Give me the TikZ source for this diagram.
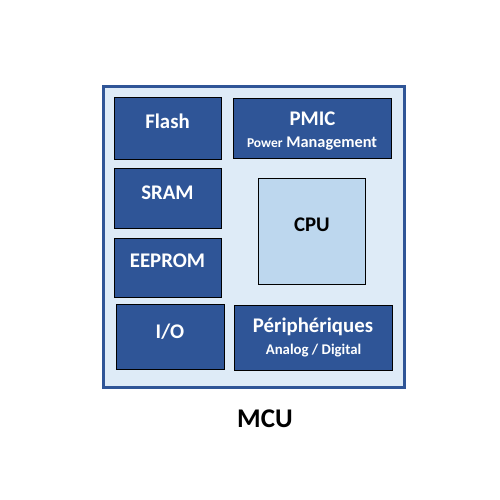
\documentclass[tikz,border=0pt]{standalone}
\usepackage{fontspec}
\setmainfont{Carlito}
\definecolor{mcublue}{HTML}{2F5597}
\definecolor{mculight}{HTML}{DEEBF7}
\definecolor{cpufill}{HTML}{BDD7EE}
\begin{document}
\begin{tikzpicture}[x=1pt,y=-1pt,
  outerbox/.style={draw=mcublue, line width=3pt, fill=mculight, inner sep=0pt},
  darkbox/.style={draw=black, line width=1pt, fill=mcublue, inner sep=0pt},
  cpubox/.style={draw=black, line width=1pt, fill=cpufill, inner sep=0pt},
  lbl/.style={anchor=base, inner sep=0pt, font=\bfseries\fontsize{20.8}{24}\selectfont, text=white},
  sublbl/.style={anchor=base, inner sep=0pt, font=\bfseries\fontsize{16.3}{19}\selectfont, text=white},
]
\useasboundingbox (0,0) rectangle (500,500);
\node[outerbox, minimum width=301, minimum height=300] (mcu) at (253.5,237) {};
\node[darkbox, minimum width=107, minimum height=61] (flash) at (167.5,128.5) {};
\node[darkbox, minimum width=107, minimum height=60] (sram) at (167.5,198) {};
\node[darkbox, minimum width=107, minimum height=59] (eeprom) at (167.5,267.8) {};
\node[darkbox, minimum width=108, minimum height=65] (io) at (170,337.3) {};
\node[darkbox, minimum width=158, minimum height=60] (pmic) at (312,128.8) {};
\node[cpubox, minimum width=107, minimum height=106] (cpu) at (312.3,231.3) {};
\node[darkbox, minimum width=158, minimum height=65] (periph) at (313,338.3) {};

\node[lbl] (tflash) at (167.5,128.5) {Flash};
\node[lbl] (tsram) at (167.5,199) {SRAM};
\node[lbl] (teeprom) at (167.5,267.5) {EEPROM};
\node[lbl] (tio) at (170,338.3) {I/O};
\node[lbl] (tpmic) at (312.5,125) {PMIC};
\node[sublbl] (tpower) at (312,147.7) {{\fontsize{13.5}{16}\selectfont Power} Management};
\node[lbl, text=black] (tcpu) at (312,231) {CPU};
\node[lbl] (tperiph) at (313,332.3) {Périphériques};
\node[sublbl, font=\bfseries\fontsize{14.8}{17}\selectfont] (tanalog) at (313.5,354) {Analog / Digital};
\node[lbl, text=black, font=\bfseries\fontsize{27}{32}\selectfont] (tmcu) at (265,427.3) {MCU};
\end{tikzpicture}
\end{document}
